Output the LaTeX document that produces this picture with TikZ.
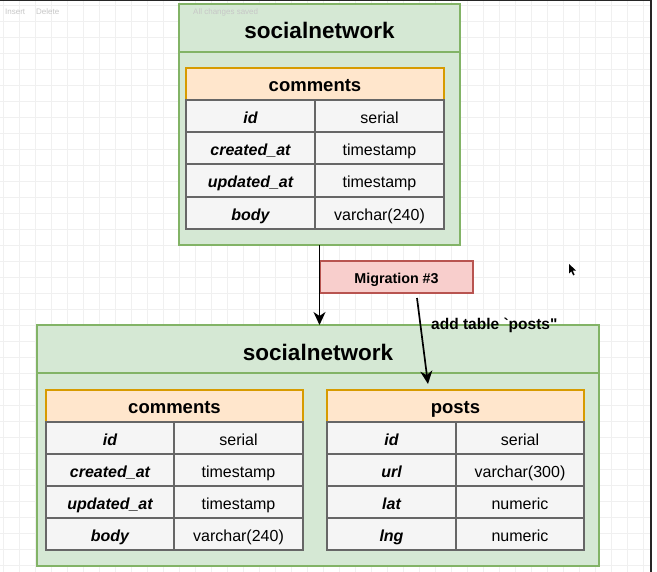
\documentclass[tikz,border=0pt]{standalone}
\usepackage{fontspec}
\setmainfont{Liberation Sans}[Ligatures=TeXOff]
\usetikzlibrary{arrows.meta,calc}
\definecolor{grnfill}{HTML}{D5E8D4}
\definecolor{grnline}{HTML}{82B366}
\definecolor{orfill}{HTML}{FFE6CC}
\definecolor{orline}{HTML}{D79B00}
\definecolor{cellfill}{HTML}{F5F5F5}
\definecolor{cellline}{HTML}{666666}
\definecolor{redfill}{HTML}{F8CECC}
\definecolor{redline}{HTML}{B85450}
\tikzset{
  box/.style={rectangle, anchor=north west, inner sep=0pt, outer sep=0pt},
  container/.style={box, draw=grnline, fill=grnfill, line width=1.3pt},
  sectline/.style={draw=grnline, line width=1.3pt},
  dbtitle/.style={inner sep=0pt, font=\fontsize{22.5}{24}\selectfont\bfseries},
  hdr/.style={box, draw=orline, fill=orfill, line width=1.3pt, text height=16pt, text depth=0pt, font=\fontsize{18.5}{20}\selectfont\bfseries},
  keycell/.style={box, draw=cellline, fill=cellfill, line width=1.3pt, text height=15pt, text depth=0pt, font=\fontsize{16}{18}\selectfont\bfseries\itshape},
  valcell/.style={box, draw=cellline, fill=cellfill, line width=1.3pt, text height=15pt, text depth=0pt, font=\fontsize{16}{18}\selectfont},
  migbox/.style={box, draw=redline, fill=redfill, line width=1.2pt, text height=13pt, text depth=0pt, font=\fontsize{14.3}{16}\selectfont\bfseries},
  lbl/.style={inner sep=0pt, font=\fontsize{15.5}{17}\selectfont\bfseries},
  conn/.style={draw=black, line width=1.7pt, -{Stealth[length=13pt,width=12pt,inset=4pt]}},
  uitext/.style={inner sep=0pt, anchor=west, text=black!22, font=\fontsize{8}{9}\selectfont},
}
% name, x0, xm, x1, ytop, ybot, key, value
\newcommand\dbrow[8]{%
  \node[keycell, minimum width={#3-#2}, minimum height={#6-#5}] (#1k) at (#2,#5) {#7};
  \node[valcell, minimum width={#4-#3}, minimum height={#6-#5}] (#1v) at (#3,#5) {#8};
}
\begin{document}
\begin{tikzpicture}[x=1pt,y=-1pt]
\useasboundingbox (0,0) rectangle (657,572);
\fill[white] (0,0) rectangle (657,572);
% background grid
\foreach \gx in {3,19,...,651} \draw[black!6, line width=0.6pt] (\gx,0) -- (\gx,572);
\foreach \gy in {5,21,...,572} \draw[black!6, line width=0.6pt] (0,\gy) -- (651,\gy);
% window edges
\fill[white] (652,0) rectangle (657,572);
\draw[black!85, line width=2pt] (651,0) -- (651,572);
\draw[black!85, line width=1.5pt] (0,0.5) -- (651,0.5);
% faint toolbar text
\node[uitext] (ui1) at (5,12) {Insert};
\node[uitext] (ui2) at (36,12) {Delete};

% ---------- top container ----------
\node[container, minimum width=281, minimum height=241] (top) at (179,4) {};
\draw[sectline] (179,52) -- (460,52);
\node[uitext] (ui3) at (193,12) {All changes saved};
\node[dbtitle] (toptitle) at (319.5,30.5) {socialnetwork};
\node[hdr, minimum width=258, minimum height=32] (tophdr) at (186,68) {comments};
\dbrow{ta}{186}{315}{444}{100}{132}{id}{serial}
\dbrow{tb}{186}{315}{444}{132}{164}{created\_at}{timestamp}
\dbrow{tc}{186}{315}{444}{164}{197}{updated\_at}{timestamp}
\dbrow{td}{186}{315}{444}{197}{229}{body}{varchar(240)}

% ---------- bottom container ----------
\node[container, minimum width=562, minimum height=241] (bot) at (37,325) {};
\draw[sectline] (37,373) -- (599,373);
\node[dbtitle] (bottitle) at (318,352.5) {socialnetwork};
% left table
\node[hdr, minimum width=257, minimum height=32] (lhdr) at (46,390) {comments};
\dbrow{la}{46}{174}{303}{422}{454}{id}{serial}
\dbrow{lb}{46}{174}{303}{454}{486}{created\_at}{timestamp}
\dbrow{lc}{46}{174}{303}{486}{518}{updated\_at}{timestamp}
\dbrow{ld}{46}{174}{303}{518}{550}{body}{varchar(240)}
% right table
\node[hdr, minimum width=257, minimum height=32] (phdr) at (327,390) {posts};
\dbrow{pa}{327}{456}{584}{422}{454}{id}{serial}
\dbrow{pb}{327}{456}{584}{454}{486}{url}{varchar(300)}
\dbrow{pc}{327}{456}{584}{486}{518}{lat}{numeric}
\dbrow{pd}{327}{456}{584}{518}{550}{lng}{numeric}

% ---------- migration ----------
\node[migbox, minimum width=153, minimum height=32] (mig) at (320,261) {Migration \#3};
\draw[conn] (top.south) -- (top.south |- bot.north);
\coordinate (a2s) at ($(mig.south)+(20.5,5)$);
\coordinate (a2e) at ($(phdr.north west)+(101,-6)$);
\draw[conn] (a2s) -- (a2e);
\node[lbl, anchor=west] (addlbl) at (431,325) {add table `posts"};

% mouse pointer
\fill[black] (569,264) -- (569,273.5) -- (571.3,271.3) -- (573.2,275.5) -- (574.6,274.8) -- (572.8,270.7) -- (576,270.5) -- cycle;
\end{tikzpicture}
\end{document}
